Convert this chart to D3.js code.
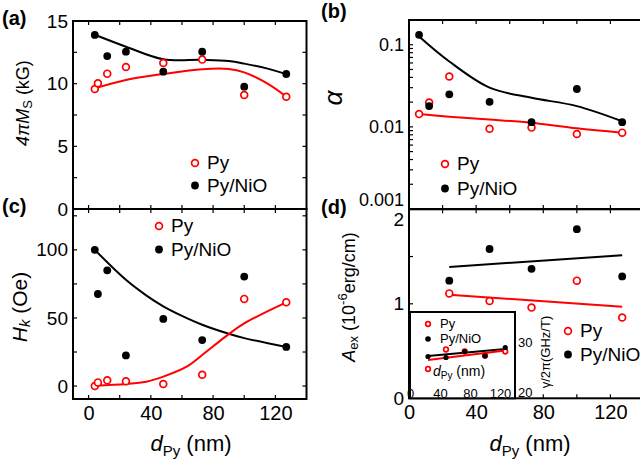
<!DOCTYPE html>
<html>
<head>
<meta charset="utf-8">
<script src="https://cdn.jsdelivr.net/npm/d3@7"></script>
<style>
  html, body { margin: 0; padding: 0; background: #fff; }
  svg { display: block; font-family: "Liberation Sans", Arial, sans-serif; }
</style>
</head>
<body>
<svg id="chart" width="640" height="466"></svg>
<script>
// (a) 4piMs (kG)
const msPyX = [4, 6, 12, 24, 48, 73, 100, 127];
const msPy = [9.57, 10.03, 10.8, 11.33, 11.65, 11.92, 9.1, 8.96];
const msNiOX = [4, 12, 24, 48, 73, 100, 127];
const msNiO = [13.89, 12.2, 12.55, 10.96, 12.55, 9.76, 10.77];
const msFitX = [4, 24, 48, 73, 90, 100, 115, 127];
const msPyFit = [9.63, 10.3, 10.77, 11.15, 11.17, 10.9, 10.0, 8.96];
const msNiOFit = [13.9, 12.95, 11.95, 11.9, 11.8, 11.6, 11.2, 10.77];

// (b) damping alpha
const alphaX = [6, 12, 24, 48, 73, 100, 127];
const alphaPy = [0.0143, 0.0198, 0.041, 0.0095, 0.0098, 0.0082, 0.0085];
const alphaNiO = [0.132, 0.0179, 0.0249, 0.0202, 0.0114, 0.0289, 0.0114];
const alphaFitX = [6, 24, 48, 73, 100, 127];
const alphaPyFit = [0.0143, 0.0133, 0.0123, 0.0112, 0.0096, 0.0085];
const alphaNiOFit = [0.126, 0.0625, 0.030, 0.0226, 0.0179, 0.0117];

// (c) Hk (Oe)
const hkX = [4, 6, 12, 24, 48, 73, 100, 127];
const hkPy = [0, 2.7, 4.2, 3.5, 1.5, 8.3, 64, 61.5];
const hkNiO = [100, 67.6, 85, 22.5, 49.3, 33.8, 80.4, 28.7];
const hkPyFitX = [4, 24, 37, 48, 63, 73, 88, 100, 127];
const hkPyFit = [0.3, 1.5, 3.2, 6.9, 14.2, 22.8, 36.3, 46, 61.5];
const hkNiOFitX = [4, 24, 37, 48, 60, 73, 90, 100, 127];
const hkNiOFit = [100, 78, 66.6, 58.5, 51.5, 45, 38.4, 35.2, 28.7];

// (d) Aex (1e-6 erg/cm)
const aexX = [24, 48, 73, 100, 127];
const aexPy = [1.11, 1.03, 0.96, 1.245, 0.855];
const aexNiO = [1.245, 1.58, 1.37, 1.79, 1.29];
const aexLineX = [24, 127];
const aexPyLine = [1.095, 0.97];
const aexNiOLine = [1.39, 1.515];

// inset gamma/2pi (GHz/T)
const gammaX = [24, 48, 73, 100, 127];
const gammaPy = [24.6, 28.5, 28.1, 27.3, 28.1];
const gammaNiO = [27.1, 26.9, 28.1, 27.2, 28.9];
const gammaPyLine = [26.4, 28.3];
const gammaNiOLine = [27.2, 28.6];

// ticks
const xTicks = [0, 40, 80, 120];
const xMinor = [0, 20, 40, 60, 80, 100, 120];
const msTicks = [0, 5, 10, 15];
const alphaTicks = [0.001, 0.01, 0.1];
const hkTicks = [0, 50, 100];
const aexTicks = [0, 1, 2];
const gammaTicks = [20, 30];
const insetXTicks = [0, 40, 80, 120];

const RED = '#ff0000';
const svg = d3.select('#chart');

// scales
const xL = d3.scaleLinear().domain([-10, 140]).range([73, 306.5]);
const xR = d3.scaleLinear().domain([0, 140]).range([409, 644]);
const yA = d3.scaleLinear().domain([0, 15]).range([209, 21]);
const yC = d3.scaleLinear().domain([-9.5, 130]).range([399, 209]);
const yB = d3.scaleLog().domain([0.001, 0.2]).range([209, 20]);
const yD = d3.scaleLinear().domain([0, 2]).range([398.3, 209.3]);
const xIn = d3.scaleLinear().domain([0, 140]).range([410, 515]);
const yIn = d3.scaleLinear().domain([20, 30]).range([392, 342]);

function frame(x, y) {
  const [x0, x1] = x.range(), [y0, y1] = y.range();
  svg.append('rect')
    .attr('x', x0).attr('y', y1).attr('width', x1 - x0).attr('height', y0 - y1)
    .attr('fill', 'none').attr('stroke', '#000').attr('stroke-width', 2);
}

function innerTicks(x, y, yMinor) {
  const [x0, x1] = x.range(), [y0, y1] = y.range();
  const xs = xMinor.filter(v => x(v) > x0 + 1 && x(v) < x1 - 1);
  const g = svg.append('g').attr('stroke', '#000').attr('stroke-width', 1.2);
  xs.forEach(v => {
    g.append('line').attr('x1', x(v)).attr('x2', x(v)).attr('y1', y0).attr('y2', y0 - 4);
    g.append('line').attr('x1', x(v)).attr('x2', x(v)).attr('y1', y1).attr('y2', y1 + 4);
  });
  yMinor.filter(v => y(v) < y0 - 1 && y(v) > y1 + 1).forEach(v => {
    g.append('line').attr('x1', x0).attr('x2', x0 + 4).attr('y1', y(v)).attr('y2', y(v));
    g.append('line').attr('x1', x1).attr('x2', x1 - 4).attr('y1', y(v)).attr('y2', y(v));
  });
}

function yLabels(x, y, ticks, fmt, size) {
  const g = svg.append('g')
    .attr('transform', `translate(${x.range()[0]},0)`)
    .call(d3.axisLeft(y).tickValues(ticks).tickFormat(fmt).tickSize(0).tickPadding(5));
  g.select('.domain').remove();
  g.selectAll('text').attr('font-size', size).attr('font-family', null).attr('fill', '#000');
  return g;
}

function xLabels(x, y) {
  const g = svg.append('g')
    .attr('transform', `translate(0,${y.range()[0]})`)
    .call(d3.axisBottom(x).tickValues(xTicks).tickSize(0).tickPadding(7));
  g.select('.domain').remove();
  g.selectAll('text').attr('font-size', 20).attr('font-family', null).attr('fill', '#000');
}

function fit(x, y, xs, ys, color, curve) {
  svg.append('path')
    .datum(d3.zip(xs, ys))
    .attr('d', d3.line().x(d => x(d[0])).y(d => y(d[1])).curve(curve || d3.curveCatmullRom.alpha(0.5)))
    .attr('fill', 'none').attr('stroke', color).attr('stroke-width', 2);
}

function dots(x, y, xs, ys, open, r) {
  svg.append('g').selectAll('circle')
    .data(d3.zip(xs, ys))
    .join('circle')
    .attr('cx', d => x(d[0])).attr('cy', d => y(d[1]))
    .attr('r', r || (open ? 3.4 : 3.9))
    .attr('fill', open ? '#fff' : '#000')
    .attr('stroke', open ? RED : 'none')
    .attr('stroke-width', open ? 1.7 : 0);
}

function legend(cx, cy, gap, size, r) {
  svg.append('circle').attr('cx', cx).attr('cy', cy).attr('r', r || 3.4)
    .attr('fill', '#fff').attr('stroke', RED).attr('stroke-width', 1.7);
  svg.append('circle').attr('cx', cx).attr('cy', cy + gap).attr('r', (r || 3.4) + 0.5).attr('fill', '#000');
  svg.append('text').attr('x', cx + 12).attr('y', cy + 0.34 * size).attr('font-size', size).text('Py');
  svg.append('text').attr('x', cx + 12).attr('y', cy + gap + 0.34 * size).attr('font-size', size).text('Py/NiO');
}

function vTitle(cx, cy, size, build) {
  const t = svg.append('text')
    .attr('transform', `translate(${cx},${cy}) rotate(-90)`)
    .attr('text-anchor', 'middle').attr('dominant-baseline', 'central')
    .attr('font-size', size);
  build(t);
}

function dTitle(cx, y) {
  const t = svg.append('text').attr('x', cx).attr('y', y).attr('text-anchor', 'middle').attr('font-size', 22);
  t.append('tspan').attr('font-style', 'italic').text('d');
  t.append('tspan').attr('font-size', 15).attr('dy', 5).text('Py');
  t.append('tspan').attr('dy', -5).text(' (nm)');
}

// ---------- (a) ----------
fit(xL, yA, msFitX, msPyFit, RED);
fit(xL, yA, msFitX, msNiOFit, '#000');
dots(xL, yA, msPyX, msPy, true);
dots(xL, yA, msNiOX, msNiO, false);
innerTicks(xL, yA, d3.range(0, 15.1, 2.5));
yLabels(xL, yA, msTicks, d3.format('d'), 19);
legend(195, 163, 22.5, 19);
vTitle(23, 103, 18, t => {
  t.append('tspan').attr('font-style', 'italic').text('4πM');
  t.append('tspan').attr('font-size', 13).attr('dy', 4).text('S');
  t.append('tspan').attr('dy', -4).text(' (kG)');
});

// ---------- (c) ----------
fit(xL, yC, hkNiOFitX, hkNiOFit, '#000');
fit(xL, yC, hkPyFitX, hkPyFit, RED);
dots(xL, yC, hkX, hkPy, true);
dots(xL, yC, hkX, hkNiO, false);
innerTicks(xL, yC, d3.range(0, 126, 25));
yLabels(xL, yC, hkTicks, d3.format('d'), 19);
xLabels(xL, yC);
legend(159, 226, 23.5, 19);
dTitle(191, 451);
vTitle(19, 307, 21, t => {
  t.append('tspan').attr('font-style', 'italic').text('H');
  t.append('tspan').attr('font-style', 'italic').attr('font-size', 15).attr('dy', 5).text('k');
  t.append('tspan').attr('dy', -5).text(' (Oe)');
});

frame(xL, yA);
frame(xL, yC);

// ---------- (b) ----------
fit(xR, yB, alphaFitX, alphaPyFit, RED);
fit(xR, yB, alphaFitX, alphaNiOFit, '#000');
dots(xR, yB, alphaX, alphaPy, true);
dots(xR, yB, alphaX, alphaNiO, false);
const logMinor = [];
[0.001, 0.01, 0.1].forEach(d => d3.range(1, 10).forEach(k => logMinor.push(d * k)));
innerTicks(xR, yB, logMinor.filter(v => v <= 0.2));
yLabels(xR, yB, alphaTicks, d => String(d), 18)
  .selectAll('text').filter(d => d === 0.001).attr('dy', '-0.2em');
legend(445, 164, 24.5, 19);
vTitle(333, 98, 26, t => t.attr('font-style', 'italic').text('α'));

// ---------- (d) ----------
fit(xR, yD, aexLineX, aexNiOLine, '#000', d3.curveLinear);
fit(xR, yD, aexLineX, aexPyLine, RED, d3.curveLinear);
dots(xR, yD, aexX, aexPy, true);
dots(xR, yD, aexX, aexNiO, false);
innerTicks(xR, yD, d3.range(0, 2.01, 0.5));
yLabels(xR, yD, aexTicks, d3.format('d'), 19)
  .selectAll('text').filter(d => d === 2).attr('dy', '0.85em');
xLabels(xR, yD);
legend(568, 331, 23.5, 19);
dTitle(530, 451);
vTitle(349, 297, 18, t => {
  t.append('tspan').attr('font-style', 'italic').text('A');
  t.append('tspan').attr('font-size', 13).attr('dy', 4).text('ex');
  t.append('tspan').attr('dy', -4).text(' (10');
  t.append('tspan').attr('font-size', 13).attr('dy', -7).text('-6');
  t.append('tspan').attr('dy', 7).text('erg/cm)');
});

frame(xR, yB);
frame(xR, yD);

// ---------- inset ----------
const [ix0, ix1] = xIn.range();
const iTop = 312, iBot = yD.range()[0];
svg.append('rect').attr('x', ix0).attr('y', iTop).attr('width', ix1 - ix0).attr('height', iBot - iTop)
  .attr('fill', '#fff').attr('stroke', '#000').attr('stroke-width', 2);
fit(xIn, yIn, aexLineX, gammaNiOLine, '#000', d3.curveLinear);
fit(xIn, yIn, aexLineX, gammaPyLine, RED, d3.curveLinear);
dots(xIn, yIn, gammaX, gammaPy, true, 2.3);
dots(xIn, yIn, gammaX, gammaNiO, false, 2.6);
legend(428, 324, 15, 13, 2.3);
const ixl = svg.append('g')
  .attr('transform', `translate(0,${iBot})`)
  .call(d3.axisTop(xIn).tickValues(insetXTicks).tickSize(0).tickPadding(0));
ixl.select('.domain').remove();
ixl.selectAll('text').attr('font-size', 13).attr('font-family', null).attr('fill', '#000').attr('dy', '-0.05em');
const iyl = svg.append('g')
  .attr('transform', `translate(${ix1},0)`)
  .call(d3.axisRight(yIn).tickValues(gammaTicks).tickSize(0).tickPadding(3));
iyl.select('.domain').remove();
iyl.selectAll('text').attr('font-size', 13).attr('font-family', null).attr('fill', '#000');
const idt = svg.append('text').attr('x', 433).attr('y', 376).attr('font-size', 14);
idt.append('tspan').attr('font-style', 'italic').text('d');
idt.append('tspan').attr('font-size', 10).attr('dy', 3).text('Py');
idt.append('tspan').attr('dy', -3).text(' (nm)');
vTitle(545, 352, 13, t => t.text('γ/2π(GHz/T)'));

// panel letters
[['(a)', 2, 25], ['(c)', 2, 213], ['(b)', 321, 18], ['(d)', 321, 214]].forEach(([s, x, y]) => {
  svg.append('text').attr('x', x).attr('y', y).attr('font-size', 20).attr('font-weight', 'bold').text(s);
});
</script>
</body>
</html>
